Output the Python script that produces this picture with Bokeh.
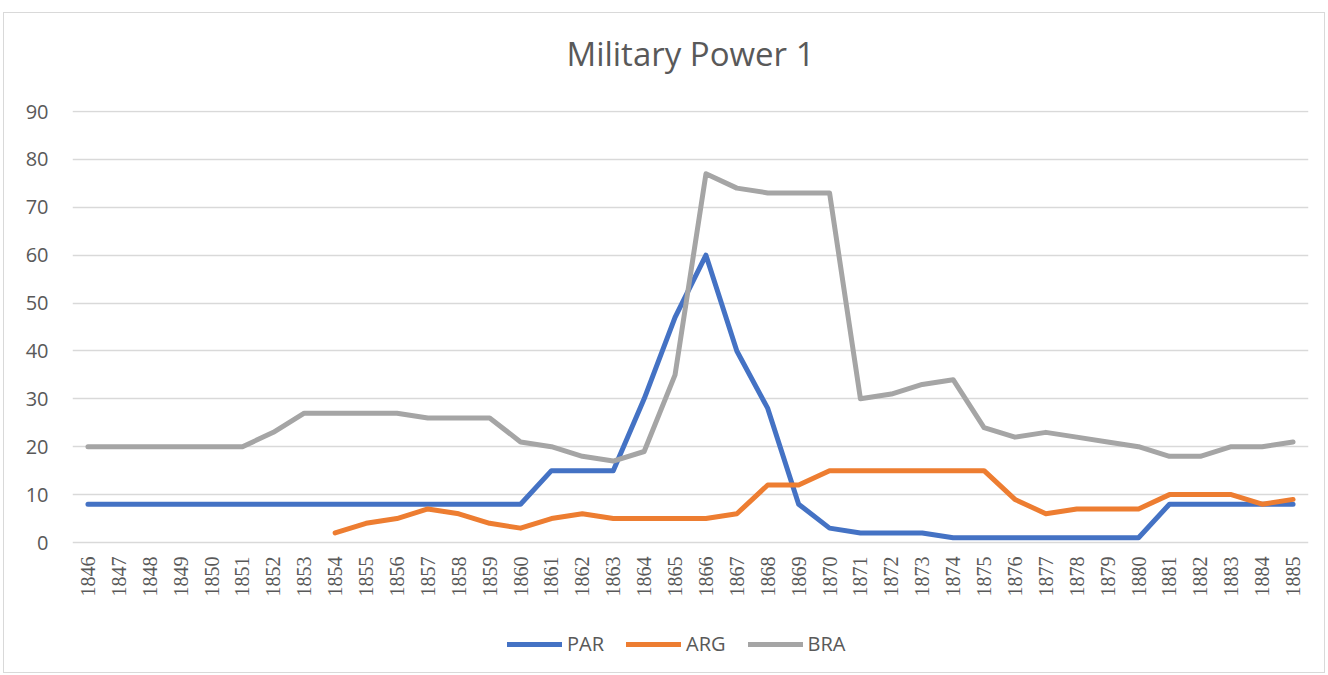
from bokeh.plotting import figure
from bokeh.models import FactorRange, Range1d, FixedTicker, Legend, LegendItem, Title
from bokeh.embed import file_html
from bokeh.resources import INLINE
import math

years = [str(y) for y in range(1846, 1886)]
par = [8, 8, 8, 8, 8, 8, 8, 8, 8, 8, 8, 8, 8, 8, 8, 15, 15, 15, 30, 47,
       60, 40, 28, 8, 3, 2, 2, 2, 1, 1, 1, 1, 1, 1, 1, 8, 8, 8, 8, 8]
arg_years = [str(y) for y in range(1854, 1886)]
arg = [2, 4, 5, 7, 6, 4, 3, 5, 6, 5, 5, 5, 5, 6, 12, 12,
       15, 15, 15, 15, 15, 15, 9, 6, 7, 7, 7, 10, 10, 10, 8, 9]
bra = [20, 20, 20, 20, 20, 20, 23, 27, 27, 27, 27, 26, 26, 26, 21, 20, 18, 17, 19, 35,
       77, 74, 73, 73, 73, 30, 31, 33, 34, 24, 22, 23, 22, 21, 20, 18, 18, 20, 20, 21]
y_ticks = [0, 10, 20, 30, 40, 50, 60, 70, 80, 90]

FONT = "Open Sans"
TXT = "#595959"
GRID = "#d9d9d9"

# layout (pixels)
FRAME_W, FRAME_H = 1236, 562
TOP, LEFT = 97, 68
PPU = 431 / 90.0                  # pixels per unit
Y_TOP = 90 + 1 / PPU
Y_BOT = Y_TOP - FRAME_H / PPU

p = figure(x_range=FactorRange(*years), y_range=Range1d(Y_BOT, Y_TOP),
           frame_width=FRAME_W, frame_height=FRAME_H, output_backend="svg", toolbar_location=None,
           title=None,
           min_border_left=LEFT, min_border_right=16, min_border_top=TOP, min_border_bottom=0)
p.x_range.range_padding = 0
p.styles = {"border": "1px solid #d9d9d9", "margin-left": "3px", "margin-top": "12px"}
p.outline_line_color = None
p.background_fill_color = "white"
p.border_fill_color = "white"

spacer = Title(text=" ", text_font_size="10px", standoff=22)
main_title = Title(text="Military Power 1", align="center", text_font=FONT, text_font_size="33px",
                   text_font_style="normal", text_color=TXT, standoff=0)
p.add_layout(spacer, "above")
p.add_layout(main_title, "above")

p.xaxis.visible = False
p.xgrid.grid_line_color = None
p.ygrid.grid_line_color = GRID
p.ygrid.grid_line_width = 1.5
p.yaxis.ticker = FixedTicker(ticks=y_ticks)
p.yaxis.major_tick_line_color = None
p.yaxis.minor_tick_line_color = None
p.yaxis.major_label_text_font = FONT
p.yaxis.major_label_text_font_size = "20px"
p.yaxis.major_label_text_color = TXT
p.yaxis.axis_line_color = None
p.yaxis.major_label_standoff = 18

# category labels under the zero line
p.text(x=years, y=[0] * len(years), text=years, angle=math.pi / 2,
       text_align="right", text_baseline="middle", y_offset=14,
       text_font="Open Sans", text_font_size="20px", text_color=TXT)

lw = 5
r_par = p.line(x=years, y=par, line_color="#4472C4", line_width=lw, line_join="round", line_cap="round")
r_arg = p.line(x=arg_years, y=arg, line_color="#ED7D31", line_width=lw, line_join="round", line_cap="round")
r_bra = p.line(x=years, y=bra, line_color="#A5A5A5", line_width=lw, line_join="round", line_cap="round")

legend = Legend(items=[LegendItem(label="PAR", renderers=[r_par]),
                       LegendItem(label="ARG", renderers=[r_arg]),
                       LegendItem(label="BRA", renderers=[r_bra])],
                orientation="horizontal", location=(435, 15),
                label_text_font=FONT, label_text_font_size="20px", label_text_color=TXT,
                glyph_width=55, label_standoff=5, spacing=22,
                border_line_color=None, background_fill_alpha=0,
                padding=10, margin=0)
p.add_layout(legend, "center")

open("out.html", "w").write(file_html(p, INLINE))
